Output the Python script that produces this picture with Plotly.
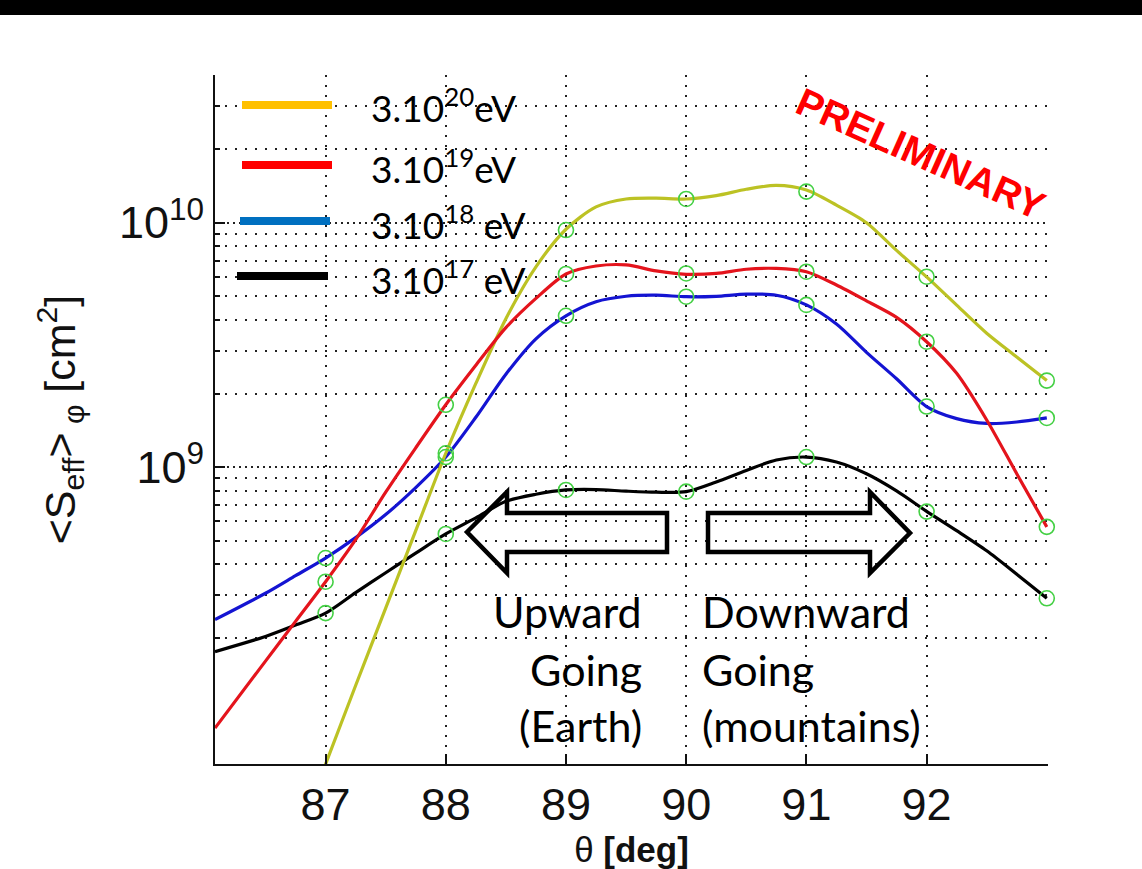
import plotly.graph_objects as go

# ---------------- data ----------------
THETA_CURVE = [86.08, 86.5, 86.75, 87, 87.25, 87.5, 87.75, 88, 88.25, 88.5, 88.75,
               89, 89.25, 89.5, 89.75, 90, 90.25, 90.5, 90.75, 91, 91.25, 91.5,
               91.75, 92, 92.25, 92.5, 92.75, 93]

S_3E20 = [None, None, 2.95e7, 6.1e7, 1.28e8, 2.65e8, 5.5e8, 1.14e9, 2.2e9, 4.05e9, 6.6e9,
          9.4e9, 1.16e10, 1.25e10, 1.26e10, 1.25e10, 1.29e10, 1.37e10, 1.42e10, 1.36e10,
          1.18e10, 1.0e10, 7.7e9, 6.0e9, 4.6e9, 3.53e9, 2.82e9, 2.26e9]
S_3E19 = [8.57e7, 1.61e8, 2.34e8, 3.40e8, 5.05e8, 7.9e8, 1.2e9, 1.80e9, 2.61e9, 3.72e9, 4.9e9,
          6.17e9, 6.65e9, 6.72e9, 6.35e9, 6.15e9, 6.2e9, 6.45e9, 6.5e9, 6.3e9,
          5.56e9, 4.79e9, 4.1e9, 3.26e9, 2.42e9, 1.56e9, 9.4e8, 5.7e8]
S_3E18 = [2.38e8, 3.05e8, 3.6e8, 4.25e8, 5.15e8, 6.4e8, 8.25e8, 1.10e9, 1.6e9, 2.4e9, 3.35e9,
          4.16e9, 4.75e9, 5.0e9, 5.05e9, 4.98e9, 5.0e9, 5.1e9, 5.05e9, 4.61e9,
          3.85e9, 2.95e9, 2.3e9, 1.77e9, 1.58e9, 1.51e9, 1.53e9, 1.59e9]
S_3E17 = [1.76e8, 2.03e8, 2.26e8, 2.53e8, 3.07e8, 3.7e8, 4.45e8, 5.33e8, 6.2e8, 7.25e8, 7.75e8,
          8.07e8, 8.1e8, 7.98e8, 7.9e8, 7.94e8, 8.7e8, 9.7e8, 1.07e9, 1.10e9,
          1.05e9, 9.4e8, 8.0e8, 6.6e8, 5.5e8, 4.55e8, 3.65e8, 2.91e8]

THETA_PTS = [87, 88, 89, 90, 91, 92, 93]
PTS_3E20 = [None, 1.14e9, 9.33e9, 1.25e10, 1.34e10, 6.01e9, 2.26e9]
PTS_3E19 = [3.40e8, 1.80e9, 6.17e9, 6.2e9, 6.3e9, 3.26e9, 5.7e8]
PTS_3E18 = [4.25e8, 1.10e9, 4.16e9, 4.98e9, 4.61e9, 1.77e9, 1.59e9]
PTS_3E17 = [2.53e8, 5.33e8, 8.07e8, 7.94e8, 1.10e9, 6.58e8, 2.91e8]

LEGEND_LABELS = ["3.10<sup>20</sup>eV", "3.10<sup>19</sup>eV",
                 "3.10<sup>18</sup> eV", "3.10<sup>17</sup> eV"]

X_TICKS = [87, 88, 89, 90, 91, 92]
Y_MAJOR = [1e9, 1e10]
Y_MAJOR_TEXT = ["10<sup>9</sup>", "10<sup>10</sup>"]
Y_MINOR = [2e8, 3e8, 4e8, 5e8, 6e8, 7e8, 8e8, 9e8,
           2e9, 3e9, 4e9, 5e9, 6e9, 7e9, 8e9, 9e9,
           2e10, 3e10, 4e10]

# ---------------- figure ----------------
W, H = 1142, 869
ML, MR, MT, MB = 215, 94, 75, 105
PW, PH = W - ML - MR, H - MT - MB


def px(x):
    return (x - ML) / PW


def py(y):
    return 1 - (y - MT) / PH


fig = go.Figure()

curve_styles = [
    (S_3E17, PTS_3E17, "#000000", "3.10^17 eV"),
    (S_3E18, PTS_3E18, "#1414d2", "3.10^18 eV"),
    (S_3E20, PTS_3E20, "#bcc224", "3.10^20 eV"),
    (S_3E19, PTS_3E19, "#e4141c", "3.10^19 eV"),
]
for vals, pts, col, name in curve_styles:
    fig.add_trace(go.Scatter(x=THETA_CURVE, y=vals, mode="lines", name=name,
                             line=dict(color=col, width=3.2, shape="spline", smoothing=0.8),
                             showlegend=False, hoverinfo="skip"))
for vals, pts, col, name in curve_styles:
    fig.add_trace(go.Scatter(x=THETA_PTS, y=pts, mode="markers", showlegend=False,
                             name=name + " points", cliponaxis=False,
                             marker=dict(symbol="circle-open", size=15, color="#44d044",
                                         line=dict(width=1.6, color="#44d044"))))

TICKFONT = dict(family="Liberation Sans, Arial, sans-serif", size=45, color="#111")

fig.update_xaxes(
    range=[86.08, 93.01], showline=True, linecolor="#111", linewidth=2, mirror=False,
    tickmode="array", tickvals=X_TICKS, ticktext=[str(v) for v in X_TICKS],
    ticks="inside", ticklen=10, tickwidth=1.5, tickcolor="#111",
    showgrid=True, gridcolor="#222", gridwidth=1.5, griddash="2px,8px",
    tickfont=TICKFONT, zeroline=False,
    title=dict(text="θ <b>[deg]</b>", font=dict(family="Liberation Sans, Arial, sans-serif",
                                               size=35, color="#111"), standoff=18),
)
fig.update_yaxes(
    type="log", range=[7.786, 10.604], showline=True, linecolor="#111", linewidth=2,
    mirror=False, tickmode="array", tickvals=Y_MAJOR, ticktext=Y_MAJOR_TEXT,
    ticks="inside", ticklen=10, tickwidth=1.5, tickcolor="#111",
    showgrid=True, gridcolor="#222", gridwidth=1.5, griddash="2px,4px",
    minor=dict(tickvals=Y_MINOR, ticks="inside", ticklen=5, tickcolor="#111",
               showgrid=True, gridcolor="#222", gridwidth=1.5, griddash="2px,8px"),
    tickfont=TICKFONT, zeroline=False,
    title=dict(text="&lt;S<sub>eff</sub>&gt;<sub> φ</sub> [cm<sup>2</sup>]",
               font=dict(family="Liberation Sans, Arial, sans-serif", size=43, color="#111"),
               standoff=30),
)

shapes = []
# black bar at the very top of the slide
shapes.append(dict(type="rect", xref="paper", yref="paper", x0=px(-5), x1=px(W + 5),
                   y0=py(15), y1=py(-5), fillcolor="#000", line=dict(width=0), layer="above"))

# legend lines
leg_lines = [(242, 332, 105, "#FFC000"), (242, 332, 165, "#FF0000"),
             (240, 330, 221, "#0070C0"), (237, 328, 276, "#000000")]
for x0, x1, yy, col in leg_lines:
    shapes.append(dict(type="line", xref="paper", yref="paper", x0=px(x0), x1=px(x1),
                       y0=py(yy), y1=py(yy), line=dict(color=col, width=8), layer="above"))


def path(points):
    return "M " + " L ".join(f"{px(a):.5f},{py(b):.5f}" for a, b in points) + " Z"


left_arrow = [(467, 532), (507, 492), (507, 513), (667, 513), (667, 552),
              (507, 552), (507, 573)]
right_arrow = [(708, 513), (870, 513), (870, 492), (910, 533), (870, 573),
               (870, 552), (708, 552)]
for pts in (left_arrow, right_arrow):
    shapes.append(dict(type="path", xref="paper", yref="paper", path=path(pts),
                       line=dict(color="#000", width=4.5), fillcolor="rgba(0,0,0,0)",
                       layer="above"))

annotations = []
LFONT = dict(family="Lato, 'Open Sans', sans-serif", size=37, color="#000")
for lab, yy in zip(LEGEND_LABELS, [105, 166, 222, 277]):
    annotations.append(dict(xref="paper", yref="paper", x=px(369), y=py(yy), text=lab,
                            showarrow=False, xanchor="left", yanchor="middle", font=LFONT))

annotations.append(dict(xref="paper", yref="paper", x=px(920), y=py(154), text="<b>PRELIMINARY</b>",
                        showarrow=False, textangle=24, xanchor="center", yanchor="middle",
                        font=dict(family="Liberation Sans, Arial, sans-serif", size=39,
                                  color="#ff0000")))

TFONT = dict(family="Lato, 'Open Sans', sans-serif", size=43, color="#000")
for txt, yy in zip(["Upward", "Going", "(Earth)"], [611, 669, 725]):
    annotations.append(dict(xref="paper", yref="paper", x=px(644), y=py(yy), text=txt,
                            showarrow=False, xanchor="right", yanchor="middle", font=TFONT))
for txt, yy in zip(["Downward", "Going", "(mountains)"], [611, 669, 725]):
    annotations.append(dict(xref="paper", yref="paper", x=px(700), y=py(yy), text=txt,
                            showarrow=False, xanchor="left", yanchor="middle", font=TFONT))

fig.update_layout(
    width=W, height=H, margin=dict(l=ML, r=MR, t=MT, b=MB, autoexpand=False),
    paper_bgcolor="#ffffff", plot_bgcolor="#ffffff",
    shapes=shapes, annotations=annotations, showlegend=False,
)

fig.write_html("out.html")
